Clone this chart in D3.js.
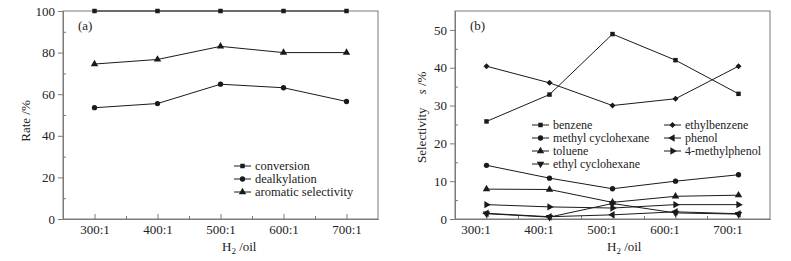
<!DOCTYPE html>
<html>
<head>
<meta charset="utf-8">
<script src="https://cdn.jsdelivr.net/npm/d3@7"></script>
<style>
  body { margin: 0; background: #fff; }
  svg text { font-family: "Liberation Serif", "Times New Roman", serif; fill: #222; }
</style>
</head>
<body>
<div id="container"></div>
<script>
/* DATA */
const ratios = [300, 400, 500, 600, 700];
const ratioLabels = ["300:1", "400:1", "500:1", "600:1", "700:1"];

// panel (a) rate %
const conversion = [100, 100, 100, 100, 100];
const dealkylation = [53.5, 55.5, 64.8, 63.1, 56.5];
const aromaticSelectivity = [74.5, 76.7, 83.0, 80.0, 80.0];

// panel (b) selectivity %
const benzene = [25.8, 32.9, 48.9, 42.0, 33.1];
const methylCyclohexane = [14.2, 10.8, 8.0, 10.0, 11.7];
const toluene = [7.9, 7.8, 4.4, 6.0, 6.3];
const ethylCyclohexane = [1.4, 0.5, 4.1, 1.6, 1.3];
const ethylbenzene = [40.4, 36.0, 30.0, 31.8, 40.4];
const phenol = [1.5, 0.6, 1.1, 1.9, 1.4];
const methylphenol = [3.8, 3.2, 2.9, 3.8, 3.8];

const rateTicks = [0, 20, 40, 60, 80, 100];
const selTicks = [0, 10, 20, 30, 40, 50];

const width = 791, height = 261;
const lineColor = "#1a1a1a", frameColor = "#7a7a7a";

const svg = d3.select("#container")
  .append("svg")
  .attr("width", width)
  .attr("height", height);

// marker shapes: [symbol type, rotation, size]
const tri = d3.symbolTriangle;
const shapes = {
  square: [d3.symbolSquare, 0, 20],
  circle: [d3.symbolCircle, 0, 22],
  up: [tri, 0, 24],
  down: [tri, 180, 24],
  left: [tri, -90, 24],
  right: [tri, 90, 24],
  diamond: [d3.symbolSquare, 45, 18]
};

function marker(g, shape, x, y) {
  const s = shapes[shape];
  g.append("path")
    .attr("d", d3.symbol().type(s[0]).size(s[2])())
    .attr("transform", `translate(${x},${y}) rotate(${s[1]})`)
    .attr("fill", lineColor);
}

function panel(opts) {
  const xScale = d3.scaleLinear().domain([250, 750]).range(opts.xRange);
  const yScale = d3.scaleLinear().domain(opts.yDomain).range([219, 11]);
  const g = svg.append("g");

  // frame
  g.append("rect")
    .attr("x", opts.xRange[0]).attr("y", 11)
    .attr("width", opts.xRange[1] - opts.xRange[0]).attr("height", 208)
    .attr("fill", "none").attr("stroke", frameColor);

  // y axis: major out, minor in
  g.append("g")
    .attr("transform", `translate(${opts.xRange[0]},0)`)
    .call(d3.axisLeft(yScale).tickValues(opts.yTicks).tickSize(5).tickPadding(3).tickSizeOuter(0));
  g.append("g")
    .attr("transform", `translate(${opts.xRange[0]},0)`)
    .call(d3.axisLeft(yScale).tickValues(opts.yMinor).tickSize(-3).tickFormat("").tickSizeOuter(0));

  // x axis: ticks inward
  const xAxis = g.append("g")
    .attr("transform", "translate(0,219)")
    .call(d3.axisBottom(xScale).tickValues(ratios).tickSize(-5).tickPadding(6)
      .tickFormat((d, i) => ratioLabels[i]).tickSizeOuter(0));
  xAxis.selectAll("text").attr("dx", opts.labelShift);
  g.append("g")
    .attr("transform", "translate(0,219)")
    .call(d3.axisBottom(xScale).tickValues([350, 450, 550, 650]).tickSize(-3).tickFormat("").tickSizeOuter(0));

  g.selectAll(".domain").attr("stroke", frameColor);
  g.selectAll(".tick line").attr("stroke", frameColor);
  g.selectAll(".tick text").attr("font-size", 13).attr("fill", "#222")
    .attr("font-family", '"Liberation Serif", serif');

  // series
  opts.series.forEach(s => {
    const line = d3.line().x((d, i) => xScale(ratios[i])).y(d => yScale(d));
    g.append("path")
      .datum(s.values)
      .attr("d", line)
      .attr("fill", "none")
      .attr("stroke", lineColor)
      .attr("stroke-width", 1);
    s.values.forEach((v, i) => marker(g, s.shape, xScale(ratios[i]), yScale(v)));
  });

  // legend
  opts.series.forEach(s => {
    const lx = s.legend[0], ly = s.legend[1];
    g.append("line")
      .attr("x1", lx).attr("x2", lx + 17)
      .attr("y1", ly).attr("y2", ly)
      .attr("stroke", lineColor);
    marker(g, s.shape, lx + 8.5, ly);
    g.append("text")
      .attr("x", lx + 21).attr("y", ly).attr("dy", "0.32em")
      .attr("font-size", opts.legendSize)
      .text(s.name);
  });

  // panel letter
  g.append("text")
    .attr("x", opts.xRange[0] + opts.letterDx).attr("y", 30)
    .attr("font-size", 13)
    .text(opts.letter);

  // x title H2 /oil
  const xt = g.append("text")
    .attr("x", opts.xTitleX).attr("y", 251)
    .attr("font-size", 13);
  xt.append("tspan").text("H");
  xt.append("tspan").attr("font-size", 9).attr("dy", 3).text("2");
  xt.append("tspan").attr("dy", -3).text(" /oil");

  return g;
}

/* PANEL A */
const ga = panel({
  xRange: [63, 378],
  yDomain: [0, 100],
  yTicks: rateTicks,
  yMinor: [10, 30, 50, 70, 90],
  labelShift: 0,
  letter: "(a)",
  letterDx: 15,
  xTitleX: 222,
  legendSize: 12.5,
  series: [
    { name: "conversion", values: conversion, shape: "square", legend: [234, 166] },
    { name: "dealkylation", values: dealkylation, shape: "circle", legend: [234, 179] },
    { name: "aromatic selectivity", values: aromaticSelectivity, shape: "up", legend: [234, 192] }
  ]
});
ga.append("text")
  .attr("transform", "translate(29.5,121) rotate(-90)")
  .attr("text-anchor", "middle")
  .attr("font-size", 13)
  .text("Rate /%");

/* PANEL B */
const gb = panel({
  xRange: [455, 770],
  yDomain: [0, 55],
  yTicks: selTicks,
  yMinor: [5, 15, 25, 35, 45],
  labelShift: -11,
  letter: "(b)",
  letterDx: 15,
  xTitleX: 607,
  legendSize: 12,
  series: [
    { name: "benzene", values: benzene, shape: "square", legend: [532, 125] },
    { name: "methyl cyclohexane", values: methylCyclohexane, shape: "circle", legend: [532, 138] },
    { name: "toluene", values: toluene, shape: "up", legend: [532, 151] },
    { name: "ethyl cyclohexane", values: ethylCyclohexane, shape: "down", legend: [532, 164] },
    { name: "ethylbenzene", values: ethylbenzene, shape: "diamond", legend: [664, 125] },
    { name: "phenol", values: phenol, shape: "left", legend: [664, 138] },
    { name: "4-methylphenol", values: methylphenol, shape: "right", legend: [664, 151] }
  ]
});
const yl = gb.append("text")
  .attr("transform", "translate(426,163) rotate(-90)")
  .attr("font-size", 13);
yl.append("tspan").text("Selectivity");
yl.append("tspan").attr("dx", 13).attr("font-style", "italic").text("s");
yl.append("tspan").text(" /%");
</script>
</body>
</html>
